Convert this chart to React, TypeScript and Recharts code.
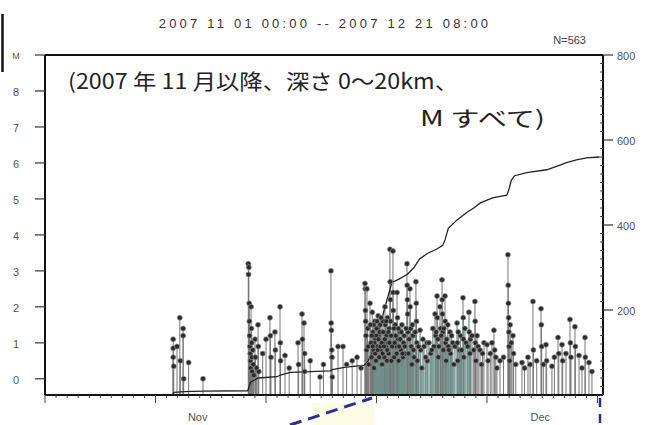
import {
  ComposedChart,
  ErrorBar,
  Line,
  ReferenceLine,
  Scatter,
  XAxis,
  YAxis,
} from "recharts";

// x is days since 2007-11-01 00:00, left axis is magnitude, right axis is cumulative count

const eventDays = [
  11.6, 11.6, 11.6, 11.65, 11.95, 12.2, 12.25, 12.5, 12.5, 12.55, 13.0, 14.3,
  18.4, 18.42, 18.45, 18.48, 18.5, 18.52, 18.55, 18.58, 18.6, 18.62, 18.65, 18.68,
  18.7, 18.72, 18.75, 18.8, 18.85, 18.9, 19.0, 19.05, 19.15, 19.28, 19.3, 19.35,
  19.7, 20.0, 20.36, 20.4, 20.45, 20.81, 20.85, 21.27, 21.3, 21.32, 21.72, 22.1,
  22.9, 22.95, 23.26, 23.3, 23.44, 23.5, 23.5, 24.0, 24.89, 25.2, 25.88, 25.9,
  25.92, 25.95, 25.97, 26.0, 26.52, 26.97, 27.3, 27.8, 28.24, 28.6,
  28.96, 28.98, 29.0, 29.02, 29.05, 29.1, 29.14, 29.2, 29.25, 29.3, 29.41, 29.45,
  29.5, 29.55, 29.62, 29.68, 29.72, 29.78, 29.85, 29.9, 29.95, 30.02, 30.08, 30.15,
  30.2, 30.25, 30.32, 30.38, 30.45, 30.5, 30.58, 30.65, 30.72, 30.77, 30.8, 30.85,
  30.9, 30.95, 31.0, 31.05, 31.1, 31.15, 31.22, 31.24, 31.26, 31.28, 31.3, 31.35,
  31.49, 31.5, 31.52, 31.55, 31.6, 31.7, 31.78, 31.86, 31.9, 31.95, 32.0, 32.1,
  32.2, 32.3, 32.4,
  32.5, 32.6, 32.76, 32.78, 32.8, 32.82, 32.85, 32.9, 33.03, 33.05, 33.1, 33.15,
  33.2, 33.3, 33.4, 33.57, 33.6, 33.62, 33.65, 33.7, 33.94, 34.0, 34.1, 34.3,
  34.57, 34.6, 34.9, 35.1, 35.2, 35.3, 35.35, 35.48, 35.5, 35.55, 35.6, 35.75,
  35.8, 35.93, 35.95, 35.97, 36.0, 36.05, 36.2, 36.22, 36.25, 36.3, 36.45, 36.5,
  36.65, 36.7, 36.9, 37.0, 37.29, 37.32, 37.35, 37.5, 37.6, 37.83, 37.85, 37.88,
  37.9, 38.1, 38.37, 38.4, 38.45, 38.64, 38.91, 38.93, 38.95, 39.0, 39.2, 39.37,
  39.5, 39.73, 40.0, 40.1, 40.3, 40.63, 40.7, 40.9, 41.18, 41.5, 41.9, 41.92,
  41.94, 41.96, 41.98, 42.0, 42.05, 42.1, 42.2, 42.35, 42.4, 42.6, 43.17, 43.4,
  43.71, 43.9, 44.16, 44.2, 44.5, 44.89, 44.92, 44.95, 45.1, 45.34, 45.4, 45.88,
  46.1, 46.43, 46.5, 46.79, 46.85, 47.15, 47.51, 47.55, 47.6, 47.96, 48.0, 48.33,
  48.6, 48.87, 48.9, 49.23, 49.5,
  // swarm after Dec 1
  29.58, 29.66, 29.75, 29.82, 29.88, 29.98, 30.05, 30.12, 30.18, 30.28, 30.35, 30.42,
  30.48, 30.55, 30.62, 30.68, 30.75, 30.88, 30.98, 31.08, 31.18, 31.32, 31.42, 31.58,
  31.65, 31.75, 31.82, 31.98, 32.05, 32.15, 32.25, 32.35, 32.45, 32.55, 32.68, 32.95,
  33.25, 33.35, 33.5, 33.8, 34.2, 34.45, 34.75, 35.0, 35.4, 35.65, 35.85, 36.1,
  36.35, 36.55, 36.8, 37.1, 37.4, 37.7, 38.0, 38.25, 38.5, 38.8, 39.1, 39.6,
  40.45, 40.8,
];

const eventMags = [
  1.1, 0.85, 0.6, 0.35, 0.9, 1.7, 0.5, 1.4, 1.2, 0.0, 0.45, 0.0,
  3.2, 2.9, 3.1, 2.1, 1.6, 1.2, 0.9, 0.7, 0.5, 0.3, 2.0, 1.4,
  1.0, 0.6, 0.2, 0.8, 0.4, 0.1, 1.1, 0.6, 0.3, 1.5, 0.9, 0.2,
  0.7, 1.1, 1.7, 1.2, 0.6, 1.3, 0.8, 2.0, 1.0, 0.5, 0.65, 0.3,
  1.0, 0.4, 1.8, 1.1, 1.55, 0.7, 0.2, 0.5, 0.05, 0.4, 3.0, 1.55,
  1.35, 0.8, 0.6, 0.05, 0.9, 0.9, 0.4, 0.5, 0.6, 0.3,
  2.65, 2.5, 1.9, 1.6, 1.2, 0.8, 2.5, 1.4, 0.9, 0.4, 2.1, 1.5,
  1.0, 0.6, 1.85, 1.3, 0.8, 0.3, 1.6, 1.1, 0.5, 1.4, 0.9, 1.75,
  1.2, 0.6, 1.5, 0.8, 1.3, 0.4, 1.6, 1.0, 0.6, 2.0, 1.5, 0.9,
  1.2, 0.5, 1.7, 1.0, 0.7, 1.4, 3.6, 2.7, 2.2, 1.6, 1.0, 0.5,
  3.55, 2.4, 1.9, 1.2, 0.6, 1.5, 0.9, 2.4, 1.7, 1.1, 0.5, 1.3,
  0.8, 1.5, 0.6,
  1.2, 0.7, 3.2, 2.6, 2.2, 1.8, 1.3, 0.7, 2.5, 2.0, 1.4, 0.9,
  0.4, 1.2, 0.6, 2.7, 2.1, 1.6, 1.0, 0.5, 1.35, 0.8, 0.3, 0.9,
  1.0, 0.5, 0.7, 1.4, 0.9, 1.8, 1.2, 2.3, 1.7, 1.1, 0.6, 2.0,
  1.4, 2.75, 2.2, 1.8, 1.3, 0.8, 2.3, 1.6, 1.0, 0.5, 1.5, 0.9,
  1.3, 0.7, 1.0, 0.4, 1.55, 1.0, 0.5, 0.8, 1.2, 2.25, 1.7, 1.1,
  0.6, 1.0, 1.85, 1.3, 0.7, 1.2, 2.15, 1.6, 1.0, 0.5, 0.9, 0.8,
  0.4, 1.0, 0.95, 0.5, 0.7, 1.35, 0.8, 0.3, 0.5, 0.6, 3.45, 2.6,
  2.1, 1.7, 1.3, 0.9, 0.5, 1.5, 1.0, 1.2, 0.7, 0.4, 0.45, 0.3,
  0.6, 0.4, 2.15, 0.8, 0.5, 1.95, 1.5, 0.9, 0.4, 0.95, 0.5, 0.35,
  0.6, 1.15, 0.7, 0.95, 0.5, 0.7, 1.65, 1.0, 0.6, 1.45, 0.9, 0.65,
  0.3, 1.15, 0.6, 0.45, 0.2,
  // swarm after Dec 1
  1.2, 0.9, 1.5, 1.0, 0.7, 1.2, 1.6, 0.8, 1.1, 1.3, 0.9, 1.7,
  1.0, 0.7, 1.3, 0.9, 1.1, 1.6, 0.8, 1.3, 1.0, 1.2, 0.9, 1.4,
  1.0, 1.2, 0.7, 1.4, 0.9, 1.1, 1.3, 0.7, 1.0, 0.9, 1.4, 1.1,
  1.5, 0.8, 1.3, 0.9, 1.1, 0.6, 1.0, 0.8, 1.3, 0.9, 1.2, 1.4,
  1.1, 0.8, 1.2, 0.9, 1.3, 0.8, 1.4, 0.9, 1.1, 0.8, 1.2, 0.7,
  1.0, 0.6,
];

// cumulative number of events (right axis)
const cumDays = [
  11.5, 11.7, 12.6, 14.3, 18.35, 18.6, 19.3, 21.0, 21.3, 22.2, 25.8, 26.0,
  27.1, 28.9, 29.2, 29.6, 30.2, 30.8, 31.4, 32.0, 32.8, 33.4, 33.9, 34.6,
  35.5, 36.0, 36.2, 36.5, 37.3, 38.2, 38.8, 39.4, 40.5, 41.8, 42.0, 42.2,
  42.5, 43.6, 45.4, 46.3, 47.2, 48.1, 49.0, 50.2,
];
const cumCounts = [
  0, 6, 8, 9, 10, 30, 40, 43, 47, 53, 57, 60,
  65, 70, 78, 100, 150, 210, 265, 272, 284, 300, 320, 333,
  344, 352, 365, 392, 412, 430, 440, 452, 464, 470, 485, 505,
  516, 523, 530, 538, 547, 553, 558, 560,
];

const magTicks = [0, 1, 2, 3, 4, 5, 6, 7, 8, 9];
const countLabels = [200, 400, 600, 800];
const monthLabels: Record<number, string> = { 14: "Nov", 45: "Dec" };

const MAG_MIN = -0.45;
const DAY_MAX = 50.5;
const dayTicks = Array.from({ length: 51 }, (_, i) => i);
const countTicks = Array.from({ length: 41 }, (_, i) => i * 20);

const events = eventDays.map((day, i) => ({
  day,
  m: eventMags[i],
  err: [eventMags[i] - MAG_MIN, 0],
}));
// the scan tints the dense early-December stems green
const isSwarm = (e: { day: number; m: number }) => e.day > 29.7 && e.day < 38.6 && e.m < 2;
const plainEvents = events.filter((e) => !isSwarm(e));
const swarmEvents = events.filter(isSwarm);
const cumulative = cumDays.map((day, i) => ({ day, n: cumCounts[i] }));

const FONT = "'Liberation Sans', Arial, sans-serif";
const AXIS = "#111";

function DayTick({ x, y, payload }: any) {
  const d = payload.value as number;
  const major = d % 10 === 0;
  const label = monthLabels[d];
  return (
    <g>
      <line x1={x} x2={x} y1={y} y2={y + (major ? 8 : 3)} stroke="#444" strokeWidth={1} />
      {label && (
        <text x={x - 2} y={y + 22} textAnchor="middle" dominantBaseline="central" fontSize={11} fontFamily={FONT} fill="#555">
          {label}
        </text>
      )}
    </g>
  );
}

function MagTick({ x, y, payload }: any) {
  const v = payload.value as number;
  return (
    <g>
      <line x1={x - 10} x2={x} y1={y} y2={y} stroke="#333" strokeWidth={1.2} />
      <text
        x={x - 29}
        y={y + 1}
        textAnchor="middle"
        dominantBaseline="central"
        fontSize={v === 9 ? 9 : 11}
        fontFamily={FONT}
        fill="#555"
      >
        {v === 9 ? "M" : v}
      </text>
    </g>
  );
}

function CountTick({ x, y, payload }: any) {
  const v = payload.value as number;
  const labelled = countLabels.includes(v);
  return (
    <g>
      {labelled ? (
        <>
          <line x1={x} x2={x + 10} y1={y} y2={y} stroke="#333" strokeWidth={1.2} />
          <text x={x + 14} y={y + 1} dominantBaseline="central" fontSize={11} fontFamily={FONT} fill="#555">
            {v}
          </text>
        </>
      ) : (
        <line x1={x - 3} x2={x} y1={y} y2={y} stroke="#444" strokeWidth={1} />
      )}
    </g>
  );
}

const dot = (p: any) => (
  <circle cx={p.cx} cy={p.cy} r={2.5} fill="#2a2a2a" stroke="#8f8f8f" strokeWidth={0.7} />
);

export default function App() {
  return (
    <div style={{ position: "absolute", left: 0, top: 0, width: 661, height: 425, background: "#fff" }}>
      <ComposedChart width={661} height={425} margin={{ top: 55, right: 0, bottom: 0, left: 0 }}>
        <XAxis
          type="number"
          dataKey="day"
          domain={[0, DAY_MAX]}
          ticks={dayTicks}
          interval={0}
          height={30}
          tickSize={0}
          tickMargin={0}
          tick={<DayTick />}
          stroke={AXIS}
          axisLine={{ stroke: AXIS, strokeWidth: 2 }}
          allowDataOverflow
        />
        <YAxis
          yAxisId="m"
          orientation="left"
          type="number"
          domain={[MAG_MIN, 9]}
          ticks={magTicks}
          interval={0}
          width={45}
          tickSize={0}
          tickMargin={0}
          tick={<MagTick />}
          stroke={AXIS}
          axisLine={{ stroke: AXIS, strokeWidth: 2 }}
          allowDataOverflow
        />
        <YAxis
          yAxisId="n"
          orientation="right"
          type="number"
          domain={[0, 800]}
          ticks={countTicks}
          interval={0}
          width={58}
          tickSize={0}
          tickMargin={0}
          tick={<CountTick />}
          axisLine={false}
          allowDataOverflow
        />
        <ReferenceLine yAxisId="m" y={9} stroke={AXIS} strokeWidth={2} />
        <ReferenceLine yAxisId="m" x={DAY_MAX} stroke={AXIS} strokeWidth={2} />
        <Scatter yAxisId="m" data={swarmEvents} dataKey="m" shape={dot} isAnimationActive={false}>
          <ErrorBar dataKey="err" direction="y" width={0} stroke="#6f8f88" strokeWidth={1.2} />
        </Scatter>
        <Scatter yAxisId="m" data={plainEvents} dataKey="m" shape={dot} isAnimationActive={false}>
          <ErrorBar dataKey="err" direction="y" width={0} stroke="#777" strokeWidth={1} />
        </Scatter>
        <Line
          yAxisId="n"
          data={cumulative}
          dataKey="n"
          type="linear"
          stroke="#222"
          strokeWidth={1.3}
          dot={false}
          isAnimationActive={false}
        />
      </ComposedChart>

      <svg
        width={661}
        height={425}
        style={{ position: "absolute", left: 0, top: 0, pointerEvents: "none" }}
      >
        <text x={325} y={23} textAnchor="middle" dominantBaseline="central" fontSize={13} fontFamily={FONT} fill="#333" letterSpacing={3.2}>
          2007 11 01 00:00 -- 2007 12 21 08:00
        </text>
        <text x={586} y={40} textAnchor="end" dominantBaseline="central" fontSize={11} fontFamily={FONT} fill="#444">
          N=563
        </text>
        <text x={68} y={80} dominantBaseline="central" fontSize={21} fontFamily="'Noto Sans CJK JP', sans-serif" fill="#222" textLength={390} lengthAdjust="spacingAndGlyphs">
          (2007 年 11 月以降、深さ 0～20km、
        </text>
        <text x={420} y={117} dominantBaseline="central" fontSize={21} fontFamily="'Noto Sans CJK JP', sans-serif" fill="#222" textLength={125} lengthAdjust="spacingAndGlyphs">
          M すべて)
        </text>
        <line x1={2.5} x2={2.5} y1={14} y2={72} stroke="#111" strokeWidth={2.5} />
        <rect x={312} y={403} width={62} height={22} fill="#fcfbe6" />
        <line x1={290} y1={425} x2={372} y2={398} stroke="#2b2f8f" strokeWidth={3} strokeDasharray="12 7" />
        <line x1={600} y1={398} x2={600} y2={425} stroke="#2b2f8f" strokeWidth={2.5} strokeDasharray="9 7" />
      </svg>
    </div>
  );
}
